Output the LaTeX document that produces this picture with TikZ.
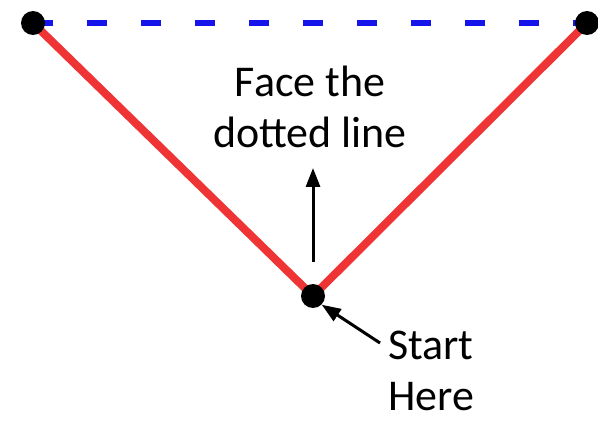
\documentclass[tikz,border=0pt]{standalone}
\usepackage{fontspec}
\setmainfont{Carlito}
\usepackage{tikz}
\usetikzlibrary{positioning,arrows.meta,calc,backgrounds}
\tikzset{
  corner/.style={circle,fill=black,minimum size=0.48cm,inner sep=0pt},
  side/.style={draw={rgb,255:red,238;green,52;blue,52},line width=0.16cm},
  target/.style={draw={rgb,255:red,20;green,20;blue,235},line width=0.14cm,dash pattern=on 0.4cm off 0.68cm},
  pointer/.style={draw,->,>={Triangle[length=0.38cm,width=0.28cm]},line width=0.06cm},
  note/.style={font=\fontsize{25}{29}\selectfont,align=left},
}

\begin{document}
\begin{tikzpicture}[x=0.02cm,y=0.02cm]
\useasboundingbox (0,0) rectangle (598,420);

\node[corner] (a) at (33,397) {};
\node[corner] (b) at (587,397) {};
\node[corner] (s) at (313,124) {};
\node[note,align=center] (face) at (310,313) {Face the\\dotted line};
\node[note,anchor=west] (start) at (382,49) {Start\\Here};

\coordinate (up0) at (313,158);
\coordinate (up1) at (313,252);
\coordinate (st0) at (380,77);

\begin{scope}[on background layer]
\path[target] (a.center) -- (b.center);
\path[side] (a.center) -- (s.center) -- (b.center);
\end{scope}

\path[pointer] (up0) -- (up1);
\path[pointer] (st0) -- (s.south east);

\end{tikzpicture}
\end{document}
